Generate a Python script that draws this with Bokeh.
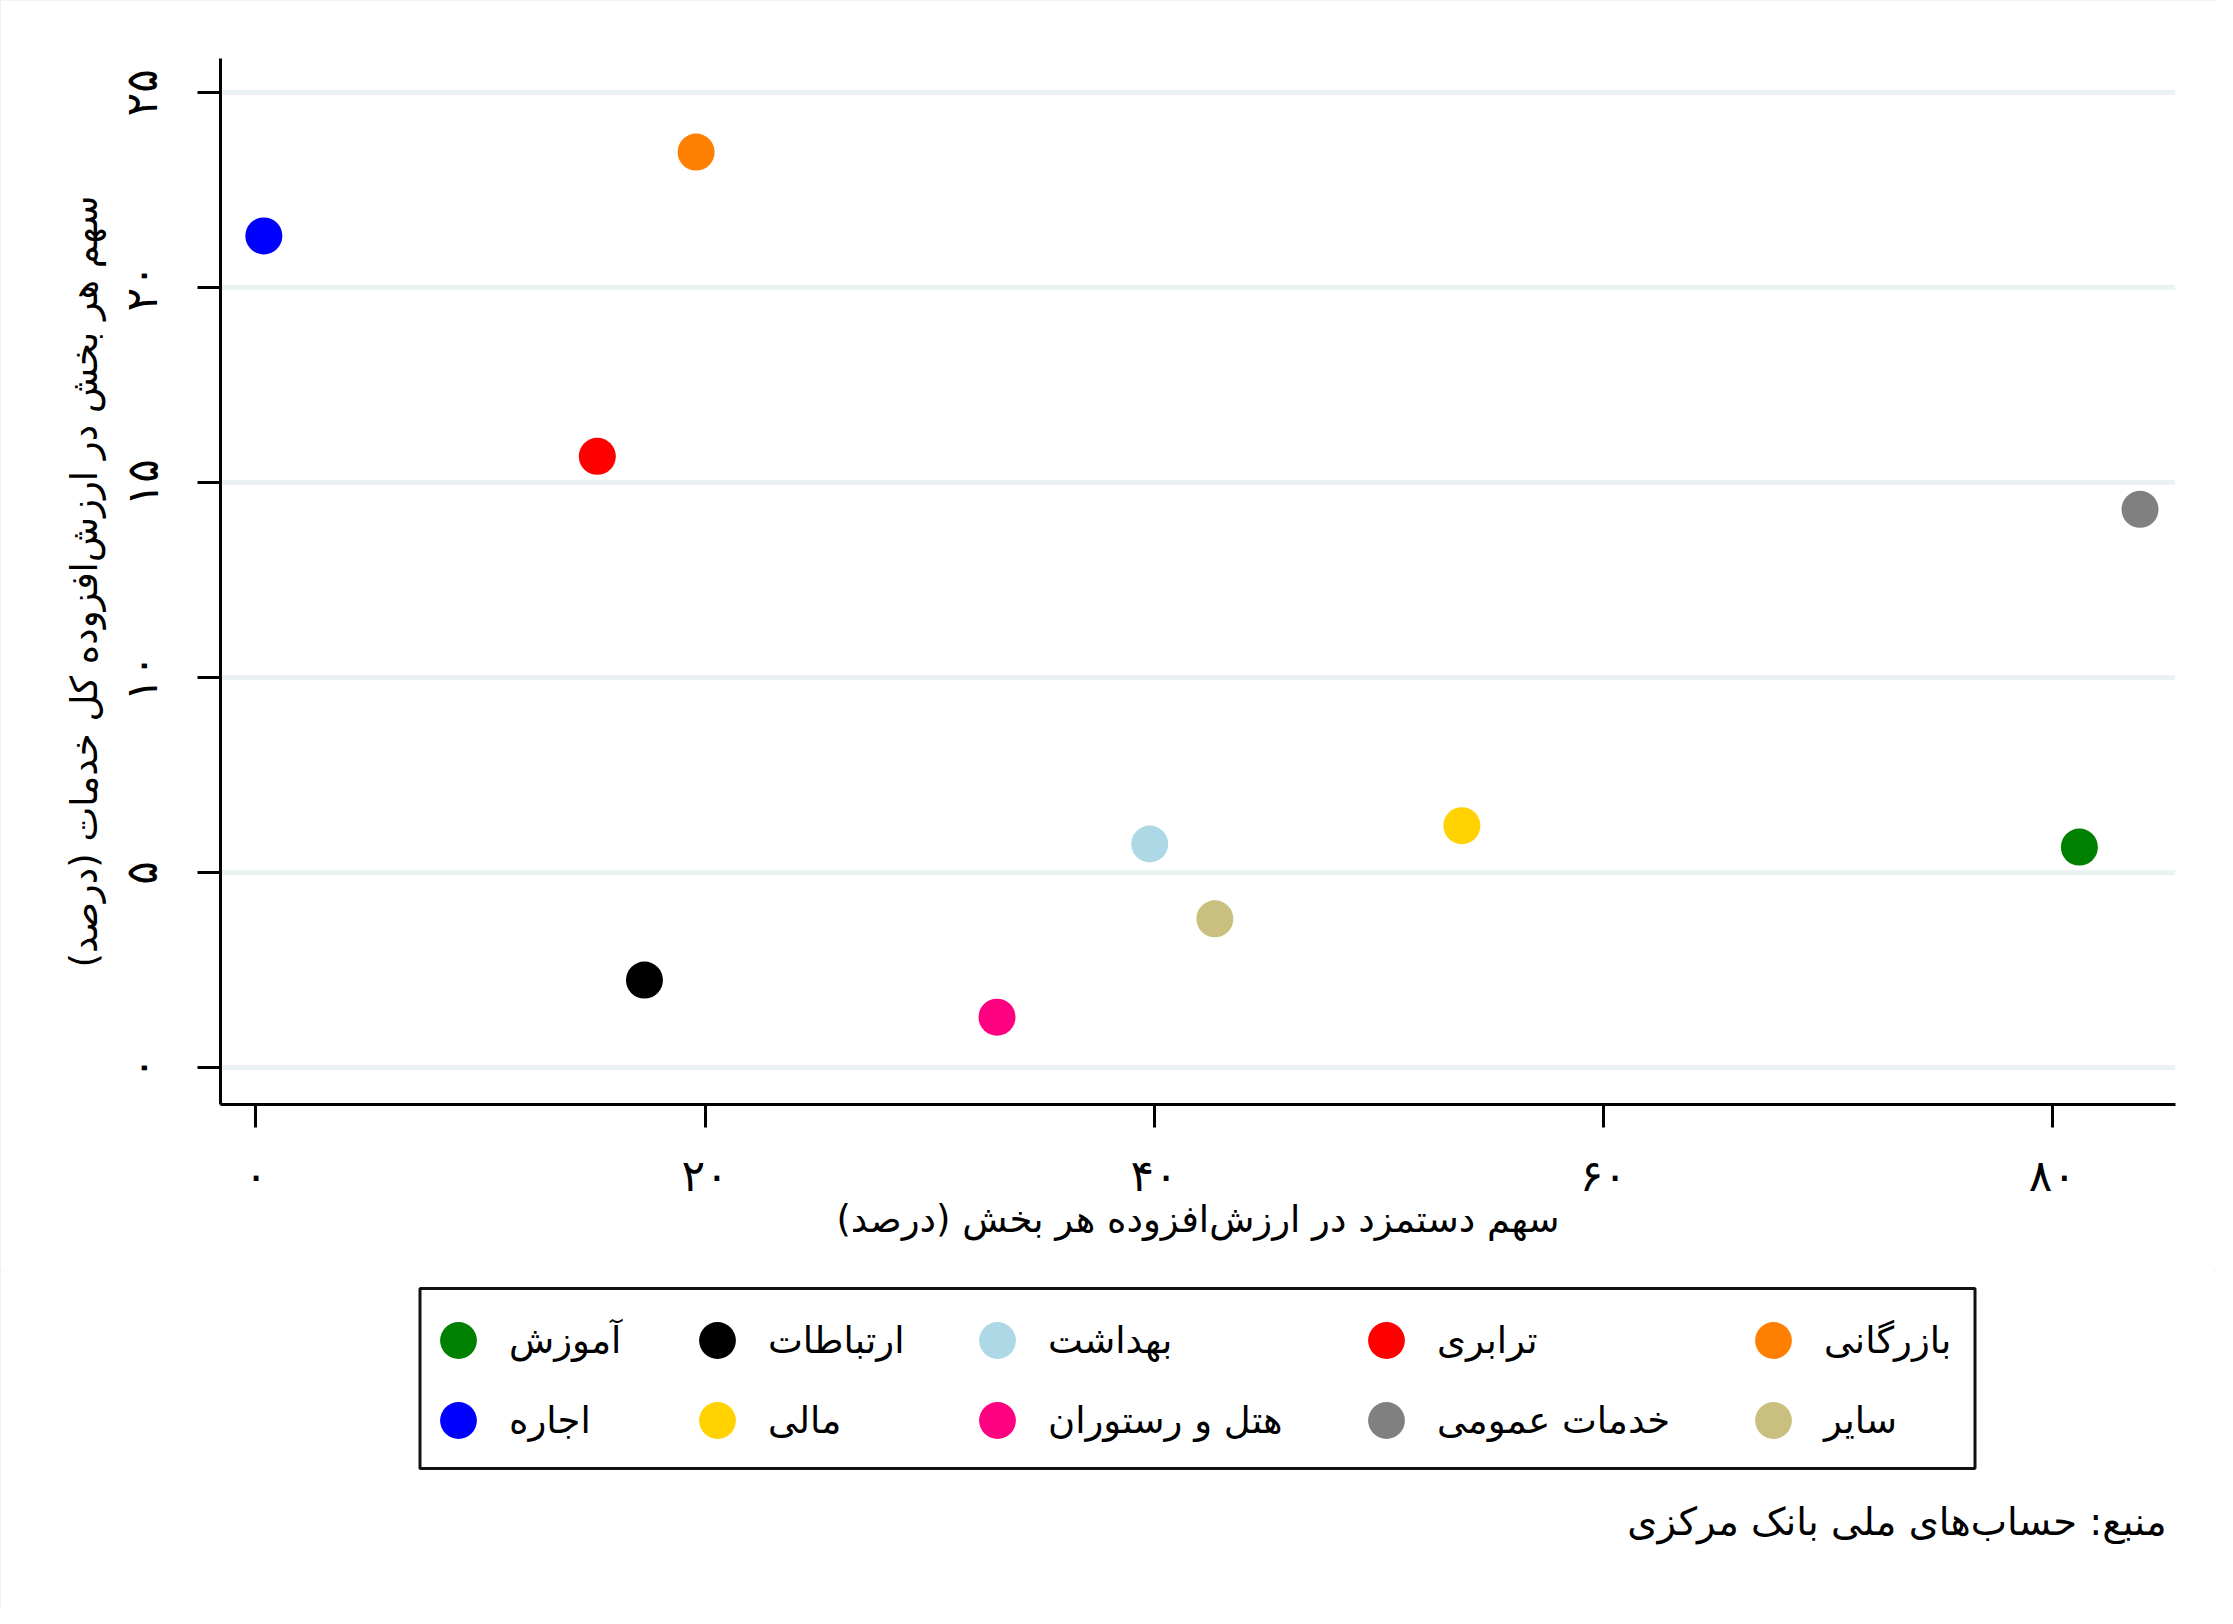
from bokeh.plotting import figure
from bokeh.layouts import column
from bokeh.models import Range1d, FixedTicker, Legend, LegendItem, Label, BoxAnnotation
from bokeh.embed import file_html
from bokeh.resources import INLINE

# ---- data ----
sectors = ["آموزش", "ارتباطات", "بهداشت", "ترابری", "بازرگانی",
           "اجاره", "مالی", "هتل و رستوران", "خدمات عمومی", "سایر"]
wage_share = [81.2, 17.3, 39.8, 15.2, 19.6, 0.35, 53.7, 33.0, 83.9, 42.7]
va_share = [5.66, 2.25, 5.74, 15.68, 23.48, 21.33, 6.21, 1.30, 14.32, 3.82]
colors = ["#008000", "#000000", "#add8e6", "#ff0000", "#ff8000",
          "#0000ff", "#ffd200", "#ff0080", "#808080", "#c9c07f"]

x_ticks = [0, 20, 40, 60, 80]
x_tick_labels = ["۰", "۲۰", "۴۰", "۶۰", "۸۰"]
y_ticks = [0, 5, 10, 15, 20, 25]
y_tick_labels = ["۰", "۵", "۱۰", "۱۵", "۲۰", "۲۵"]

x_title = "سهم دستمزد در ارزش\u200cافزوده هر بخش (درصد)"
y_title = "سهم هر بخش در ارزش\u200cافزوده کل خدمات (درصد)"
source_note = "منبع: حساب\u200cهای ملی بانک مرکزی"

FONT = "DejaVu Sans"
GRID = "#eaf2f3"
TITLE_FS = "37px"
LEG_FS = "37px"
NOTE_FS = "38.5px"
TICK_FS = "44px"
W = 2217
H_MAIN = 1270
H_LEG = 338
BL, BR, BT = 220, 42, 58

# ---------------- main scatter ----------------
p = figure(width=W, height=H_MAIN, output_backend="svg", toolbar_location=None,
           x_range=Range1d(-1.58, 85.48), y_range=Range1d(-0.94, 25.88),
           min_border_left=BL, min_border_right=BR, min_border_top=BT,
           min_border_bottom=H_MAIN - 1104)
p.background_fill_color = "white"
p.border_fill_color = "white"
p.outline_line_color = None

p.xgrid.visible = False
p.ygrid.grid_line_color = GRID
p.ygrid.grid_line_width = 5

for ax in (p.xaxis[0], p.yaxis[0]):
    ax.axis_line_color = "black"
    ax.axis_line_width = 3
    ax.major_tick_line_color = "black"
    ax.major_tick_line_width = 3
    ax.major_tick_out = 23
    ax.major_tick_in = 0
    ax.minor_tick_line_color = None
    ax.major_label_text_font = FONT
    ax.major_label_text_font_size = TICK_FS
    ax.major_label_text_color = "black"
    ax.axis_label_text_font = FONT
    ax.axis_label_text_font_size = TITLE_FS
    ax.axis_label_text_font_style = "normal"
    ax.axis_label_text_color = "black"

p.xaxis[0].ticker = FixedTicker(ticks=x_ticks)
p.xaxis[0].major_label_overrides = dict(zip(x_ticks, x_tick_labels))
p.xaxis[0].axis_label = x_title
p.xaxis[0].major_label_standoff = 22
p.xaxis[0].axis_label_standoff = -6

p.yaxis[0].ticker = FixedTicker(ticks=y_ticks)
p.yaxis[0].major_label_overrides = dict(zip(y_ticks, y_tick_labels))
p.yaxis[0].major_label_orientation = "vertical"
p.yaxis[0].axis_label = y_title
p.yaxis[0].major_label_standoff = 30
p.yaxis[0].axis_label_standoff = 8

for name, xv, yv, c in zip(sectors, wage_share, va_share, colors):
    p.scatter(x=[xv], y=[yv], size=37, fill_color=c, line_color=None)

# ---------------- legend strip (frame aligned with the main frame) ----------------
q = figure(width=W, height=H_LEG, output_backend="svg", toolbar_location=None,
           x_range=Range1d(-1.58, 85.48), y_range=Range1d(100, 101),
           x_axis_type=None, y_axis_type=None,
           min_border_left=BL, min_border_right=BR,
           min_border_top=0, min_border_bottom=0)
q.grid.visible = False
q.outline_line_color = None
q.background_fill_color = "white"
q.border_fill_color = "white"

# legend glyph sources (same data; they lie outside this strip's y range)
legend_renderers = [q.scatter(x=[xv], y=[yv], size=37, fill_color=c, line_color=None)
                    for xv, yv, c in zip(wage_share, va_share, colors)]

ncols = 5
col_left = [192, 451, 731, 1120, 1507]   # px from the frame's left edge
row_bottom = [222, 142]                  # px from the strip's bottom edge
for i, name in enumerate(sectors):
    row, ci = divmod(i, ncols)
    lg = Legend(items=[LegendItem(label=name, renderers=[legend_renderers[i]])],
                orientation="vertical", location=(col_left[ci], row_bottom[row]),
                label_text_font=FONT, label_text_font_size=LEG_FS,
                label_text_color="black",
                glyph_width=92, glyph_height=92, label_standoff=5,
                spacing=0, padding=0, margin=0,
                border_line_color=None, background_fill_alpha=0.0)
    q.add_layout(lg)

box = BoxAnnotation(left=199.5, right=1754.5, top=320, bottom=140,
                    left_units="screen", right_units="screen",
                    top_units="screen", bottom_units="screen",
                    fill_alpha=0.0, line_color="#111111", line_width=3,
                    line_alpha=1.0)
q.add_layout(box)

note = Label(x=1946, y=87, x_units="screen", y_units="screen",
             text=source_note, text_align="right", text_baseline="middle",
             text_font=FONT, text_font_size=NOTE_FS, text_color="black")
q.add_layout(note)

layout = column(p, q, spacing=0)
layout.styles = {"outline": f"4px solid {GRID}", "outline-offset": "-4px"}

open("out.html", "w").write(file_html(layout, INLINE))
